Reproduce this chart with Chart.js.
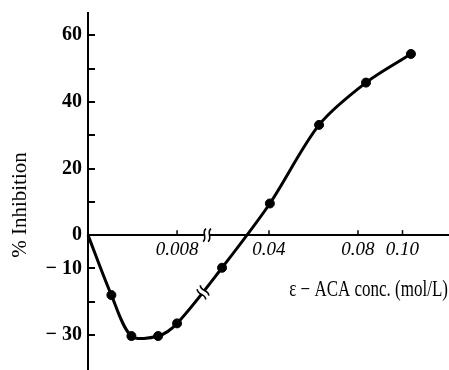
<!DOCTYPE html>
<html>
<head>
<meta charset="utf-8">
<script src="https://cdn.jsdelivr.net/npm/chart.js@4.4.1/dist/chart.umd.min.js"></script>
<style>
  html, body { margin: 0; padding: 0; background: #fff; }
  canvas { display: block; }
</style>
</head>
<body>
<canvas id="chart" width="449" height="370"></canvas>
<script>
// ε-ACA concentration (mol/L) against % inhibition
const concentration = [0, 0.0021, 0.0039, 0.0063, 0.0080, 0.0189, 0.0404, 0.0625, 0.0836, 0.1038];
const inhibition    = [0, -18.0, -30.3, -30.3, -26.5, -9.8, 9.5, 33.1, 45.8, 54.4];

const xTickValues = [0.008, 0.04, 0.08, 0.10];
const xTickLabels = ['0.008', '0.04', '0.08', '0.10'];
const yTickValues = [-30, -20, -10, 0, 10, 20, 30, 40, 50, 60];
const yTickLabels = ['\u2212 30', '', '\u2212 10', '0', '', '20', '', '40', '', '60'];

const yTitle = '% Inhibition';
const xTitle = '\u03b5 \u2212 ACA conc. (mol/L)';

// Linear scale with a change of density: [min, split.at] is spread over the
// first `split.frac` of the axis, [split.resume, max] over the rest.
class BrokenLinearScale extends Chart.LinearScale {
  _toDecimal(v) {
    const b = this.options.split;
    if (v <= b.at) return (v - this.min) / (b.at - this.min) * b.frac;
    return b.frac + (v - b.resume) / (this.max - b.resume) * (1 - b.frac);
  }
  getPixelForValue(value) {
    return value === null ? NaN : this.getPixelForDecimal(this._toDecimal(value));
  }
  getValueForPixel(pixel) {
    const d = this.getDecimalForPixel(pixel);
    const b = this.options.split;
    if (d <= b.frac) return this.min + d / b.frac * (b.at - this.min);
    return b.resume + (d - b.frac) / (1 - b.frac) * (this.max - b.resume);
  }
}
BrokenLinearScale.id = 'brokenLinear';
BrokenLinearScale.defaults = Chart.LinearScale.defaults;
Chart.register(BrokenLinearScale);

// small double-wave break symbol, centred on (x, y), aligned with angle
function drawBreak(ctx, x, y, angle) {
  ctx.save();
  ctx.translate(x, y);
  ctx.rotate(angle);
  ctx.strokeStyle = '#fff';
  ctx.lineWidth = 6;
  ctx.beginPath();
  ctx.moveTo(-2.2, 0);
  ctx.lineTo(2.2, 0);
  ctx.stroke();
  ctx.strokeStyle = '#000';
  ctx.lineWidth = 1.6;
  for (const d of [-2.5, 2.5]) {
    ctx.beginPath();
    ctx.moveTo(d - 1.5, 6.5);
    ctx.bezierCurveTo(d + 3.5, 3, d - 3.5, -3, d + 1.5, -6.5);
    ctx.stroke();
  }
  ctx.restore();
}

function bezierAt(P, s) {
  const u = 1 - s;
  const a = u * u * u, b = 3 * u * u * s, c = 3 * u * s * s, d = s * s * s;
  return {
    x: a * P[0][0] + b * P[1][0] + c * P[2][0] + d * P[3][0],
    y: a * P[0][1] + b * P[1][1] + c * P[2][1] + d * P[3][1]
  };
}

const axisDecor = {
  id: 'axisDecor',
  beforeDatasetsDraw(chart) {
    // inward tick marks on both axes
    const { ctx, scales: { x, y } } = chart;
    const y0 = y.getPixelForValue(0);
    ctx.save();
    ctx.strokeStyle = '#000';
    ctx.lineWidth = 2;
    for (const v of yTickValues) {
      const py = Math.round(y.getPixelForValue(v));
      ctx.beginPath();
      ctx.moveTo(x.left, py);
      ctx.lineTo(x.left + 7, py);
      ctx.stroke();
    }
    ctx.lineWidth = 1.5;
    for (const v of xTickValues) {
      const px = x.getPixelForValue(v);
      ctx.beginPath();
      ctx.moveTo(px, y0);
      ctx.lineTo(px, y0 - 5);
      ctx.stroke();
    }
    ctx.restore();
  },
  afterDatasetsDraw(chart) {
    const { ctx, scales: { x, y } } = chart;
    const bx = x.left + x.options.split.frac * x.width;
    drawBreak(ctx, bx + 1, y.getPixelForValue(0), 0);

    // break symbol on the curve where it passes the split
    const pts = chart.getDatasetMeta(0).data;
    const target = bx - 3;
    for (let i = 0; i < pts.length - 1; i++) {
      const a = pts[i], b = pts[i + 1];
      if (a.x <= target && b.x > target) {
        const P = [[a.x, a.y], [a.cp2x, a.cp2y], [b.cp1x, b.cp1y], [b.x, b.y]];
        let lo = 0, hi = 1;
        for (let k = 0; k < 40; k++) {
          const mid = (lo + hi) / 2;
          if (bezierAt(P, mid).x < target) lo = mid; else hi = mid;
        }
        const p = bezierAt(P, lo);
        const q = bezierAt(P, Math.min(1, lo + 0.02));
        drawBreak(ctx, p.x, p.y, Math.atan2(q.y - p.y, q.x - p.x));
        break;
      }
    }
  },
  afterDraw(chart) {
    const { ctx, chartArea } = chart;
    ctx.save();
    ctx.fillStyle = '#000';
    ctx.font = '21px "Liberation Serif"';
    ctx.textAlign = 'center';
    ctx.textBaseline = 'middle';
    ctx.translate(chartArea.left - 68, 205);
    ctx.rotate(-Math.PI / 2);
    ctx.fillText(yTitle, 0, 0);
    ctx.restore();

    ctx.save();
    ctx.fillStyle = '#000';
    ctx.font = '17px "Liberation Serif"';
    ctx.textAlign = 'right';
    ctx.textBaseline = 'alphabetic';
    ctx.translate(chartArea.right - 1, 296);
    ctx.scale(1, 1.3);
    ctx.fillText(xTitle, 0, 0);
    ctx.restore();
  }
};

new Chart(document.getElementById('chart'), {
  type: 'line',
  data: {
    datasets: [{
      data: concentration.map((c, i) => ({ x: c, y: inhibition[i] })),
      borderColor: '#000',
      backgroundColor: '#000',
      borderWidth: 3,
      tension: 0.3,
      pointRadius: ctx => (ctx.dataIndex === 0 ? 0 : 4.5),
      pointBorderWidth: 1,
      pointBackgroundColor: '#000',
      pointBorderColor: '#000',
      clip: false
    }]
  },
  options: {
    responsive: false,
    animation: false,
    devicePixelRatio: 1,
    layout: { autoPadding: false, padding: { top: 13, left: 0, right: 0, bottom: 0 } },
    plugins: { legend: { display: false }, tooltip: { enabled: false } },
    scales: {
      x: {
        type: 'brokenLinear',
        position: { y: 0 },
        min: 0,
        max: 0.1209,
        split: { at: 0.0106, resume: 0.0117, frac: 0.3269 },
        afterBuildTicks: s => { s.ticks = xTickValues.map(v => ({ value: v })); },
        afterFit: s => { s.height = 0; s.paddingLeft = 0; s.paddingRight = 0; s.paddingTop = 0; s.paddingBottom = 0; },
        border: { display: true, color: '#000', width: 2 },
        grid: { display: false, drawTicks: false },
        ticks: {
          autoSkip: false,
          maxRotation: 0,
          padding: 3,
          color: '#000',
          font: { family: 'Liberation Serif', size: 19, style: 'italic' },
          callback: (v, i) => xTickLabels[i]
        }
      },
      y: {
        type: 'linear',
        position: 'left',
        min: -40.5,
        max: 66.7,
        afterBuildTicks: s => { s.ticks = yTickValues.map(v => ({ value: v })); },
        afterFit: s => { s.width = 88; s.paddingTop = 0; s.paddingBottom = 0; s.paddingLeft = 0; s.paddingRight = 0; },
        border: { display: true, color: '#000', width: 2 },
        grid: { display: false, drawTicks: false },
        ticks: {
          autoSkip: false,
          padding: 6,
          color: '#000',
          font: { family: 'Liberation Serif', size: 20, weight: 'bold' },
          callback: (v, i) => yTickLabels[i]
        }
      }
    }
  },
  plugins: [axisDecor]
});
</script>
</body>
</html>
